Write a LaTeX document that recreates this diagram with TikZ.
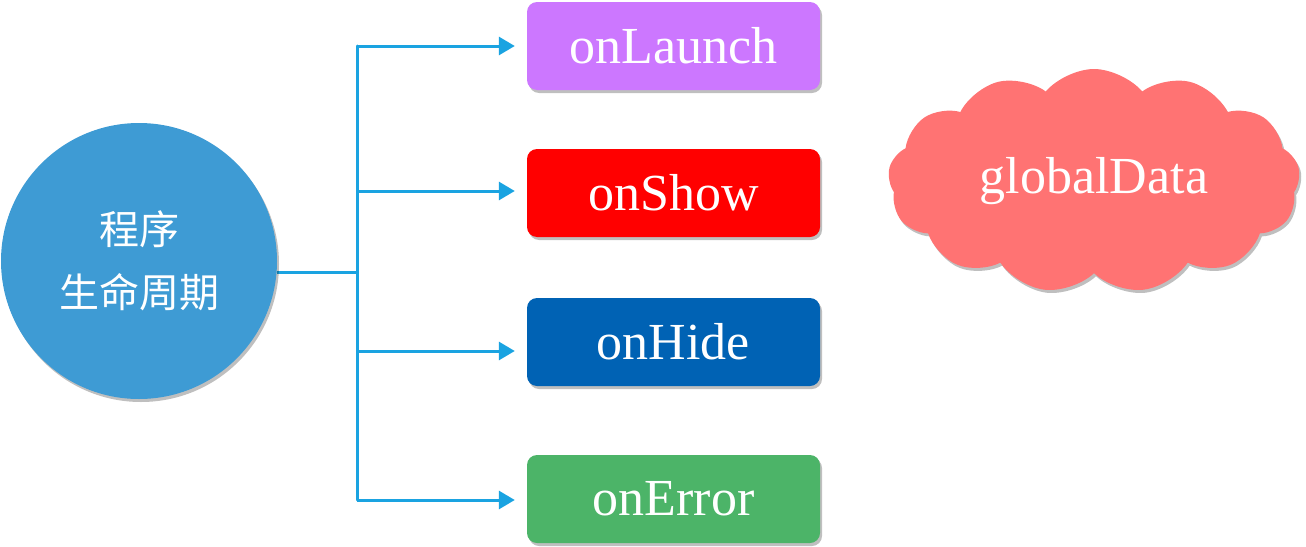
\documentclass[tikz,border=0pt]{standalone}
\usepackage{fontspec}
\setmainfont{Liberation Serif}
\newfontfamily\cjk{Noto Sans CJK SC}
\usetikzlibrary{arrows.meta}
\usetikzlibrary{shapes.symbols}
\usetikzlibrary{shadows}
\pgfdeclarelayer{edgelayer}
\pgfdeclarelayer{nodelayer}
\pgfsetlayers{edgelayer,nodelayer,main}
\definecolor{lifeblue}{RGB}{62,155,212}
\definecolor{linkblue}{RGB}{26,163,225}
\definecolor{launchpurple}{RGB}{204,119,255}
\definecolor{showred}{RGB}{255,0,0}
\definecolor{hideblue}{RGB}{0,98,180}
\definecolor{errorgreen}{RGB}{76,180,104}
\definecolor{cloudred}{RGB}{255,115,115}
\tikzstyle{none}=[inner sep=0pt]
\tikzstyle{soft}=[drop shadow={shadow xshift=2pt,shadow yshift=-3pt,opacity=0.25,fill=black}]
\tikzstyle{life}=[circle,fill=lifeblue,minimum size=276pt,inner sep=0pt,text=white,align=center,font=\cjk\fontsize{40}{63}\selectfont,soft]
\tikzstyle{hook}=[rectangle,rounded corners=10pt,minimum width=293pt,minimum height=88pt,text=white,font=\fontsize{52}{60}\selectfont,soft]
\tikzstyle{store}=[cloud,cloud puffs=13,cloud puff arc=100,aspect=1.9,fill=cloudred,minimum width=412pt,minimum height=224pt,text=white,font=\fontsize{52}{60}\selectfont,soft]
\tikzstyle{simple}=[-,draw=linkblue,line width=3pt]
\tikzstyle{transition}=[-{Triangle[length=16pt,width=18pt]},draw=linkblue,line width=3pt,shorten >=12pt]

\begin{document}
\begin{tikzpicture}[x=1pt,y=-1pt]
	\useasboundingbox (0,0) rectangle (1306,546);
	\begin{pgfonlayer}{nodelayer}
		\node [style=life] (0) at (139, 261) {程序\\生命周期};
		\node [style=hook, fill=launchpurple] (1) at (673.5, 46) {onLaunch};
		\node [style=hook, fill=showred] (2) at (673.5, 193) {onShow};
		\node [style=hook, fill=hideblue] (3) at (673.5, 342) {onHide};
		\node [style=hook, fill=errorgreen] (4) at (673.5, 499) {onError};
		\node [style=store] (5) at (1094, 181) {globalData};
		\node [style=none] (6) at (357, 272) {};
		\node [style=none] (7) at (357, 46) {};
		\node [style=none] (8) at (357, 191) {};
		\node [style=none] (9) at (357, 351) {};
		\node [style=none] (10) at (357, 500) {};
	\end{pgfonlayer}
	\begin{pgfonlayer}{edgelayer}
		\draw [style=simple] (6.center -| 0.east) to (6.center);
		\draw [style=simple, line cap=round] (7.center) to (10.center);
		\draw [style=transition] (7.center) to (7.center -| 1.west);
		\draw [style=transition] (8.center) to (8.center -| 2.west);
		\draw [style=transition] (9.center) to (9.center -| 3.west);
		\draw [style=transition] (10.center) to (10.center -| 4.west);
	\end{pgfonlayer}
\end{tikzpicture}
\end{document}
